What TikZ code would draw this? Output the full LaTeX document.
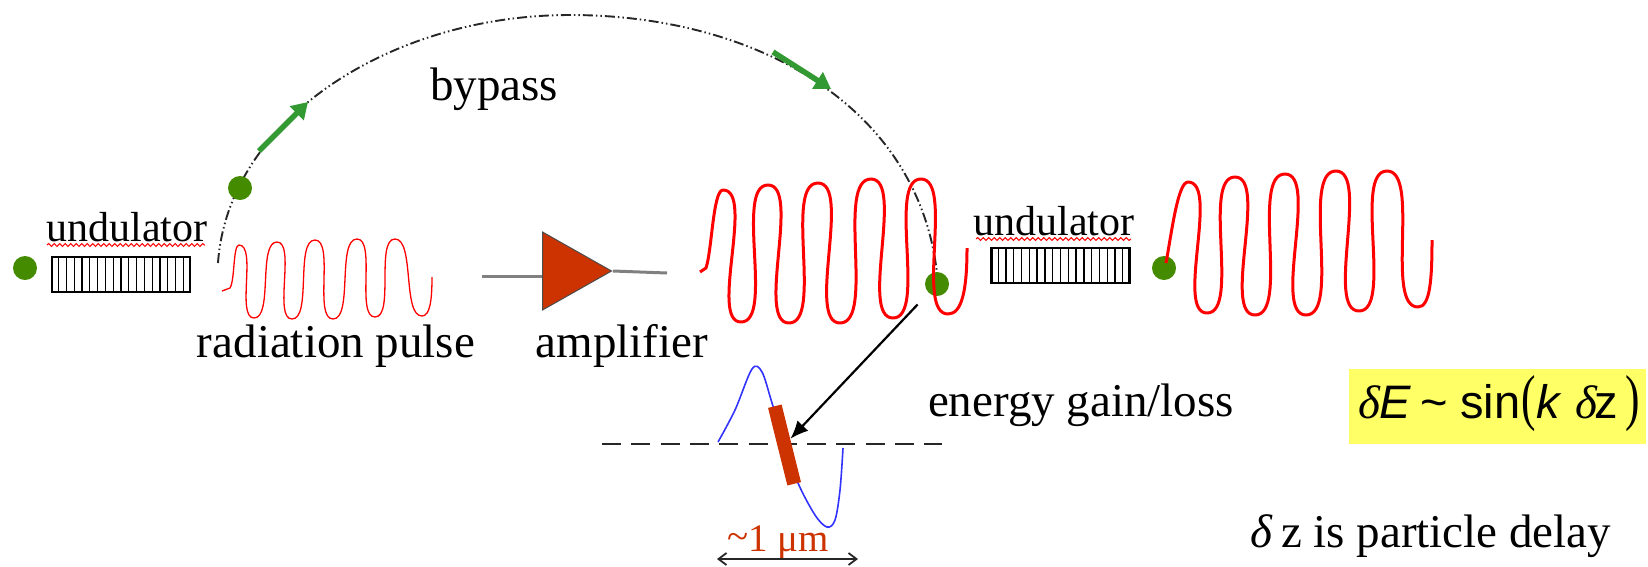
\documentclass[tikz,border=0pt]{standalone}
\usepackage{fontspec}
\setmainfont{Liberation Serif}
\newfontfamily\arialfont{Liberation Sans}
\usetikzlibrary{arrows.meta, backgrounds, calc, decorations.pathmorphing, shapes.geometric}
\definecolor{dotgreen}{HTML}{458B00}
\definecolor{flowgreen}{HTML}{339933}
\definecolor{rust}{HTML}{CC3300}
\definecolor{pulsered}{HTML}{FF0000}
\definecolor{boxyellow}{HTML}{FFFF66}
\tikzset{
  label47/.style = {
    anchor=base, inner sep=0pt, font=\fontsize{47}{50}\selectfont
  },
  undlabel/.style = {
    anchor=base, inner sep=0pt, font=\fontsize{42}{44}\selectfont
  },
  undbox/.style = {
    rectangle, draw=black, line width=2.2pt, fill=white,
    minimum width=138pt, minimum height=35pt, inner sep=0pt
  },
  particle/.style = {
    circle, fill=dotgreen, minimum size=24pt, inner sep=0pt
  },
  amptri/.style = {
    isosceles triangle, isosceles triangle stretches, draw=black!70,
    line width=1pt, fill=rust, minimum width=78pt, minimum height=69pt,
    inner sep=0pt, anchor=lower side
  },
  slice/.style = {
    rectangle, fill=rust, minimum width=80pt, minimum height=14pt,
    inner sep=0pt, rotate=-76
  },
  bypassline/.style = {
    draw=black!85, line width=1.9pt,
    dash pattern=on 10pt off 3pt on 1.5pt off 3pt on 1.5pt off 3pt
  },
  flow/.style = {
    draw=flowgreen, line width=5.5pt, -{Triangle[length=16pt, width=19pt]}
  },
  lead/.style = { draw=black!50, line width=3pt },
  squiggle/.style = {
    draw=pulsered, line width=1pt,
    decorate, decoration={snake, segment length=5.5pt, amplitude=1.5pt}
  },
  thinpulse/.style = {
    draw=pulsered, line width=1.3pt, line join=round,
    every to/.style={out=0, in=180, looseness=0.62}
  },
  thickpulse/.style = {
    draw=pulsered, line width=3pt, line join=round,
    every to/.style={out=0, in=180, looseness=0.62}
  }
}

\begin{document}
\begin{tikzpicture}[x=1pt, y=-1pt]
    \useasboundingbox (0,0) rectangle (1648,566);

    % ------------------------------------------------------------- Undulators
    \node [undbox] (box_a) at (121, 274.5) {};
    \node [undbox] (box_b) at (1060.5, 265.5) {};
    \foreach \b in {box_a, box_b} {
      \foreach \i in {1,...,17} {
        \draw [line width=1.3pt] ($(\b.south west)!\i/18!(\b.south east)$)
          -- ($(\b.north west)!\i/18!(\b.north east)$);
      }
    }
    \node [undlabel] (und_a) at (127, 241) {undulator};
    \node [undlabel] (und_b) at (1054, 235) {undulator};
    \draw [squiggle] (47, 245) -- (205, 245);
    \draw [squiggle] (976, 239) -- (1131, 239);

    % --------------------------------------------------------------- Particles
    \node [particle] (dot_in)   at (25, 268) {};
    \node [particle] (dot_up)   at (240, 188) {};
    \node [particle] (dot_down) at (937, 284) {};
    \node [particle] (dot_out)  at (1164, 268) {};

    % -------------------------------------------------------------- Amplifier
    \node [amptri] (amp) at (542, 271) {};
    \coordinate (lead_in)  at (482, 276);
    \coordinate (lead_out) at (667, 273);

    % ------------------------------------------------------------------ Pulses
    \draw [thinpulse] (222,291) -- (230,288) .. controls (235,280) and (233,245) .. (239,245)
      to (254,318) to (277,242) to (292,319) to (315,240) to (333,319)
      to (357,239) to (375,317) to (395,239) to (422,316)
      .. controls (430,316) and (432,300) .. (432,277);
    \draw [thickpulse] (700,272) -- (706,268) .. controls (712,250) and (713,190) .. (723,190)
      to (741,322) to (768,185) to (789,323) to (818,183) to (840,323)
      to (871,179) to (893,318) to (921,179) to (948,314)
      .. controls (962,314) and (967,290) .. (967,248);
    \draw [thickpulse] (1166,263) .. controls (1172,230) and (1178,182) .. (1188,182)
      to (1207,313) to (1235,177) to (1255,315) to (1285,174) to (1306,315)
      to (1336,171) to (1359,311) to (1387,171) to (1418,307)
      .. controls (1430,307) and (1432,280) .. (1432,240);

    % ------------------------------------------------------------------ Labels
    \node [label47] (bypass)   at (494, 100) {bypass};
    \node [label47] (radpulse) at (336, 357) {radiation pulse};
    \node [label47] (amplabel) at (622, 357) {amplifier};
    \node [label47] (gainloss) at (1081, 416) {energy gain/loss};
    \node [label47] (delay)    at (1431, 547) {\textit{δ}\,z is particle delay};

    % ------------------------------------------------------------ Energy curve
    \coordinate (axis_l) at (602, 444);
    \coordinate (axis_r) at (942, 444);
    \draw [black!85, line width=2.6pt, dash pattern=on 19pt off 10.3pt] (axis_l) -- (axis_r);
    \draw [draw=blue!80, line width=1.6pt] plot [smooth, tension=0.55] coordinates {
      (718,442) (735,410) (752,369) (762,372) (772,403) (785,445) (798,483)
      (815,515) (827,527) (835,520) (840,490) (843,448)};
    \node [slice] (bar) at (784.5, 445) {};
    \draw [black, line width=2.2pt, shorten <=16pt, -{Latex[length=18pt, width=15pt]}] (dot_down) -- (bar);

    % ------------------------------------------------------------------ Width
    \node [anchor=base, inner sep=0pt, text=rust, font=\fontsize{39}{42}\selectfont]
      (width) at (778, 551) {\raisebox{2pt}{\textasciitilde}1 μm};
    \coordinate (width_l) at (717, 559);
    \coordinate (width_r) at (858, 559);
    \draw [black!85, line width=1.8pt, {Straight Barb[length=8pt, width=12pt]}-{Straight Barb[length=8pt, width=12pt]}] (width_l) -- (width_r);

    % ---------------------------------------------------------------- Formula
    \node [rectangle, fill=boxyellow, minimum width=297pt, minimum height=75pt, inner sep=0pt]
      (formula) at (1497.5, 406.5) {};
    \node [anchor=base west, inner sep=0pt, font=\arialfont\fontsize{47}{50}\selectfont]
      (formula_text) at (1358, 418) {{\rmfamily\itshape δ}\kern-1pt\textit{E}\kern 10pt\textasciitilde\kern 12pt%
      sin\kern 1pt{\rmfamily\fontsize{62}{62}\selectfont\scalebox{0.7}[1]{(}}\kern 1pt\textit{k}\kern 13pt%
      {\rmfamily\itshape δ}\kern-3pt z\kern 8pt{\rmfamily\fontsize{62}{62}\selectfont\scalebox{0.7}[1]{)}}};

    % ----------------------------------------- Connectors (behind the shapes)
    \begin{scope}[on background layer]

      % -------- bypass arc
      \coordinate (arc_start) at (218, 263);
      \coordinate (arc_top)   at (570, 15);
      \coordinate (arc_end)   at (938, 284);
      \draw [bypassline] (arc_start) .. controls (228,120) and (390,15) .. (arc_top)
        .. controls (760,15) and (925,110) .. (arc_end);

      % -------- amplifier leads
      \draw [lead] (lead_in) -- (lead_in -| amp.lower side);
      \draw [lead] (amp.apex) -- (lead_out);

    \end{scope}

    % ------------------------------------------------------------ Flow arrows
    \coordinate (up_a)   at (259, 151);
    \coordinate (up_b)   at (308, 102);
    \coordinate (down_a) at (773, 52);
    \coordinate (down_b) at (831, 89);
    \draw [flow] (up_a) -- (up_b);
    \draw [flow] (down_a) -- (down_b);

\end{tikzpicture}
\end{document}
